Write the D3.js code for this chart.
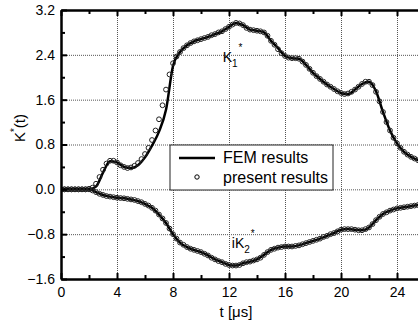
<!DOCTYPE html>
<html>
<head>
<meta charset="utf-8">
<script src="https://cdn.jsdelivr.net/npm/d3@7"></script>
<style>
  body { margin: 0; background: #fff; }
  svg { display: block; font-family: Arial, "Liberation Sans", sans-serif; }
</style>
</head>
<body>
<svg id="chart" width="418" height="327"></svg>
<script>
// FEM results (solid line), t in microseconds
var femT = [0, 0.5, 1, 1.5, 2, 2.5, 3, 3.5, 4, 4.5, 5, 5.5, 6, 6.5, 7, 7.5, 8, 8.5, 9, 9.5,
    10, 10.5, 11, 11.5, 12, 12.5, 13, 13.5, 14, 14.5, 15, 15.5, 16, 16.5, 17, 17.5, 18, 18.5, 19, 19.5,
    20, 20.5, 21, 21.5, 22, 22.5, 23, 23.5, 24, 24.5, 25, 25.5, 26];
var femK1 = [0, 0, 0, 0, 0, 0.05, 0.3, 0.5, 0.48, 0.4, 0.38, 0.43, 0.57, 0.78, 1.03, 1.42, 2.2, 2.45, 2.57, 2.64,
    2.68, 2.72, 2.77, 2.82, 2.9, 2.97, 2.93, 2.85, 2.83, 2.8, 2.65, 2.52, 2.38, 2.34, 2.33, 2.22, 2.08, 1.97, 1.87, 1.79,
    1.72, 1.7, 1.78, 1.88, 1.92, 1.75, 1.38, 1.05, 0.82, 0.67, 0.58, 0.52, 0.47];
var femK2 = [0, 0, 0, 0, 0, -0.05, -0.1, -0.13, -0.15, -0.16, -0.18, -0.21, -0.26, -0.33, -0.45, -0.6, -0.8, -0.95, -1.03, -1.08,
    -1.12, -1.18, -1.25, -1.3, -1.35, -1.36, -1.32, -1.29, -1.25, -1.17, -1.08, -1.04, -1.02, -1.02, -1.0, -0.96, -0.92, -0.88, -0.83, -0.78,
    -0.72, -0.71, -0.72, -0.73, -0.68, -0.55, -0.44, -0.38, -0.34, -0.32, -0.3, -0.28, -0.26];

// present results (open circles)
var presT = [0, 0.25, 0.5, 0.75, 1, 1.25, 1.5, 1.75, 2, 2.25, 2.5, 2.75, 3, 3.25, 3.5, 3.75, 4, 4.25, 4.5, 4.75,
    5, 5.25, 5.5, 5.75, 6, 6.25, 6.5, 6.75, 7, 7.25, 7.5, 7.75, 8, 8.25, 8.5, 8.75, 9, 9.25, 9.5, 9.75,
    10, 10.25, 10.5, 10.75, 11, 11.25, 11.5, 11.75, 12, 12.25, 12.5, 12.75, 13, 13.25, 13.5, 13.75, 14, 14.25, 14.5, 14.75,
    15, 15.25, 15.5, 15.75, 16, 16.25, 16.5, 16.75, 17, 17.25, 17.5, 17.75, 18, 18.25, 18.5, 18.75, 19, 19.25, 19.5, 19.75,
    20, 20.25, 20.5, 20.75, 21, 21.25, 21.5, 21.75, 22, 22.25, 22.5, 22.75, 23, 23.25, 23.5, 23.75, 24, 24.25, 24.5, 24.75,
    25, 25.25, 25.5, 25.75, 26];
var presK1 = [0, 0, 0, 0, 0, 0, 0, 0, 0.01, 0.03, 0.1, 0.22, 0.35, 0.46, 0.51, 0.51, 0.48, 0.43, 0.4, 0.38,
    0.39, 0.42, 0.47, 0.54, 0.63, 0.74, 0.88, 1.05, 1.25, 1.5, 1.78, 2.05, 2.25, 2.37, 2.45, 2.52, 2.57, 2.61, 2.64, 2.66,
    2.68, 2.7, 2.72, 2.75, 2.77, 2.8, 2.82, 2.86, 2.9, 2.94, 2.97, 2.96, 2.93, 2.88, 2.85, 2.84, 2.83, 2.82, 2.8, 2.74,
    2.65, 2.58, 2.5, 2.43, 2.38, 2.35, 2.34, 2.34, 2.33, 2.28, 2.22, 2.15, 2.08, 2.02, 1.97, 1.92, 1.87, 1.83, 1.79, 1.75,
    1.72, 1.7, 1.71, 1.74, 1.78, 1.83, 1.88, 1.92, 1.92, 1.86, 1.74, 1.57, 1.38, 1.2, 1.05, 0.92, 0.82, 0.74, 0.67, 0.62,
    0.58, 0.55, 0.52, 0.49, 0.47];
var presK2 = [0, 0, 0, 0, 0, 0, 0, 0, 0, -0.02, -0.05, -0.08, -0.1, -0.12, -0.13, -0.14, -0.15, -0.155, -0.16, -0.17,
    -0.18, -0.19, -0.21, -0.23, -0.26, -0.29, -0.33, -0.38, -0.45, -0.52, -0.6, -0.7, -0.8, -0.88, -0.95, -0.99, -1.03, -1.06, -1.08, -1.1,
    -1.12, -1.15, -1.18, -1.22, -1.25, -1.28, -1.3, -1.33, -1.35, -1.36, -1.36, -1.35, -1.32, -1.3, -1.29, -1.27, -1.25, -1.22, -1.17, -1.12,
    -1.08, -1.06, -1.04, -1.03, -1.02, -1.02, -1.02, -1.01, -1.0, -0.98, -0.96, -0.94, -0.92, -0.9, -0.88, -0.85, -0.83, -0.8, -0.78, -0.75,
    -0.72, -0.71, -0.71, -0.71, -0.72, -0.73, -0.73, -0.71, -0.68, -0.62, -0.55, -0.49, -0.44, -0.41, -0.38, -0.36, -0.34, -0.33, -0.32, -0.31,
    -0.3, -0.29, -0.28, -0.27, -0.26];

// axis ticks
var xMajor = [0, 4, 8, 12, 16, 20, 24];
var xMinor = [2, 6, 10, 14, 18, 22, 26];
var yMajor = [-1.6, -0.8, 0.0, 0.8, 1.6, 2.4, 3.2];
var yMinor = [-1.2, -0.4, 0.4, 1.2, 2.0, 2.8];

var legendLabels = ["FEM results", "present results"];

var svg = d3.select("#chart");
var padL = 61, padT = 10, padB = 279;

var x = d3.scaleLinear().domain([0, 26]).range([padL, padL + 26 * 14]);
var y = d3.scaleLinear().domain([-1.6, 3.2]).range([padB, padT]);
var plotW = x(26) - padL;
var plotH = padB - padT;

svg.append("defs").append("clipPath").attr("id", "clip")
    .append("rect").attr("x", padL).attr("y", padT).attr("width", plotW).attr("height", plotH);

// grid
var gridX = svg.append("g")
    .attr("transform", "translate(0," + padB + ")")
    .call(d3.axisBottom(x).tickValues(xMajor.slice(1)).tickSize(-plotH).tickFormat(""));
var gridY = svg.append("g")
    .attr("transform", "translate(" + padL + ",0)")
    .call(d3.axisLeft(y).tickValues(yMajor.slice(1, -1)).tickSize(-plotW).tickFormat(""));
[gridX, gridY].forEach(function (g) {
    g.select(".domain").remove();
    g.selectAll("line").attr("stroke", "#555").attr("stroke-width", 1).attr("stroke-dasharray", "1,1");
});

// data
var plot = svg.append("g").attr("clip-path", "url(#clip)");

var line = function (ys) {
    return d3.line()
        .x(function (d, i) { return x(femT[i]); })
        .y(function (d) { return y(d); })
        .curve(d3.curveMonotoneX)(ys);
};

[femK1, femK2].forEach(function (ys) {
    plot.append("path")
        .attr("d", line(ys))
        .attr("fill", "none")
        .attr("stroke", "#000")
        .attr("stroke-width", 2.5);
});

[presK1, presK2].forEach(function (ys) {
    plot.append("g").selectAll("circle")
        .data(ys)
        .enter()
        .append("circle")
        .attr("cx", function (d, i) { return x(presT[i]); })
        .attr("cy", function (d) { return y(d); })
        .attr("r", 2.4)
        .attr("fill", "none")
        .attr("stroke", "#222")
        .attr("stroke-width", 1);
});

// axes (ticks pointing inward)
function styleAxis(g) {
    g.select(".domain").attr("stroke", "#000").attr("stroke-width", 2);
    g.selectAll(".tick line").attr("stroke", "#000").attr("stroke-width", 2);
    g.selectAll("text").attr("font-size", 14).attr("fill", "#000")
        .attr("font-family", "Arial, 'Liberation Sans', sans-serif");
}

var xb = svg.append("g").attr("transform", "translate(0," + padB + ")")
    .call(d3.axisBottom(x).tickValues(xMajor).tickSizeInner(-6).tickSizeOuter(0).tickPadding(8));
styleAxis(xb);
svg.append("g").attr("transform", "translate(0," + padB + ")")
    .call(d3.axisBottom(x).tickValues(xMinor).tickSizeInner(-4).tickSizeOuter(0).tickFormat(""))
    .call(styleAxis);

var xt = svg.append("g").attr("transform", "translate(0," + padT + ")")
    .call(d3.axisTop(x).tickValues(xMajor).tickSizeInner(-6).tickSizeOuter(0).tickFormat(""));
styleAxis(xt);
svg.append("g").attr("transform", "translate(0," + padT + ")")
    .call(d3.axisTop(x).tickValues(xMinor).tickSizeInner(-4).tickSizeOuter(0).tickFormat(""))
    .call(styleAxis);

var yl = svg.append("g").attr("transform", "translate(" + padL + ",0)")
    .call(d3.axisLeft(y).tickValues(yMajor).tickSizeInner(-6).tickSizeOuter(0).tickPadding(6).tickFormat(d3.format(".1f")));
styleAxis(yl);
svg.append("g").attr("transform", "translate(" + padL + ",0)")
    .call(d3.axisLeft(y).tickValues(yMinor).tickSizeInner(-4).tickSizeOuter(0).tickFormat(""))
    .call(styleAxis);

// axis titles
svg.append("text")
    .attr("x", (x(0) + x(25)) / 2)
    .attr("y", 317)
    .attr("text-anchor", "middle")
    .attr("font-size", 15)
    .text("t [μs]");

var yt = svg.append("text")
    .attr("transform", "translate(25," + 128 + ") rotate(-90)")
    .attr("text-anchor", "middle")
    .attr("font-size", 15);
yt.append("tspan").text("K");
yt.append("tspan").attr("font-size", 10).attr("dy", -7).text("*");
yt.append("tspan").attr("dy", 7).text("(t)");

// curve annotations
var k1 = svg.append("text").attr("x", x(11.55)).attr("y", y(2.27)).attr("font-size", 14);
k1.append("tspan").text("K");
k1.append("tspan").attr("font-size", 10).attr("dy", 5).text("1");
k1.append("tspan").attr("font-size", 10).attr("dy", -16).attr("dx", 1).text("*");

var k2 = svg.append("text").attr("x", x(12.2)).attr("y", y(-1.05)).attr("font-size", 14);
k2.append("tspan").text("iK");
k2.append("tspan").attr("font-size", 10).attr("dy", 5).text("2");
k2.append("tspan").attr("font-size", 10).attr("dy", -16).attr("dx", 1).text("*");

// legend
var lg = svg.append("g").attr("transform", "translate(170,145)");
lg.append("rect").attr("width", 163).attr("height", 45)
    .attr("fill", "#fff").attr("stroke", "#222").attr("stroke-width", 1);
lg.append("line").attr("x1", 9).attr("x2", 45).attr("y1", 13).attr("y2", 13)
    .attr("stroke", "#000").attr("stroke-width", 2.5);
lg.append("circle").attr("cx", 27).attr("cy", 32).attr("r", 2.2)
    .attr("fill", "none").attr("stroke", "#000").attr("stroke-width", 1);
lg.selectAll("text.lbl")
    .data(legendLabels)
    .enter()
    .append("text")
    .attr("class", "lbl")
    .attr("x", 53)
    .attr("y", function (d, i) { return 18 + i * 20; })
    .attr("font-size", 16)
    .text(function (d) { return d; });
</script>
</body>
</html>
